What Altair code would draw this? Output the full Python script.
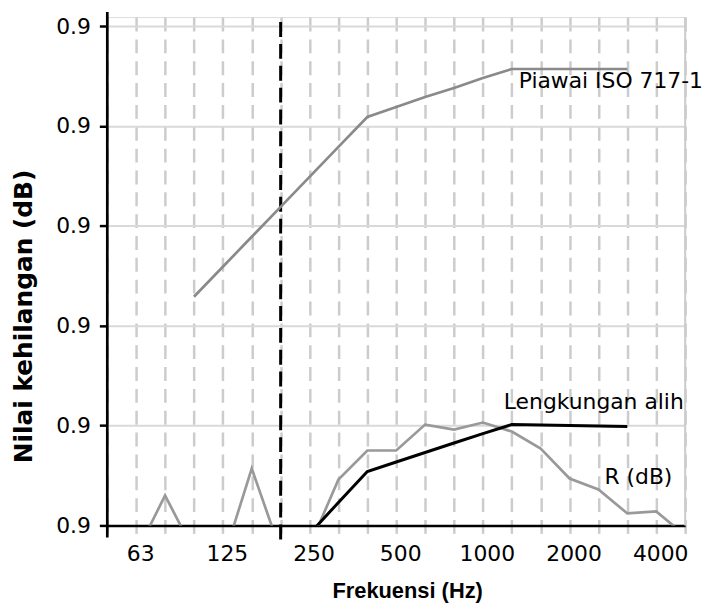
import json
import altair as alt
import pandas as pd

# ---- data ----
freqs = ["50", "63", "80", "100", "125", "160", "200", "250", "315", "400", "500",
         "630", "800", "1000", "1250", "1600", "2000", "2500", "3150", "4000", "5000"]

r_freqs = ["63", "80", "100", "125", "160", "200", "250", "315", "400", "500", "630",
           "800", "1000", "1250", "1600", "2000", "2500", "3150", "4000", "5000"]
r_vals = [-2.8, 3.0, -2.6, -3.5, 5.7, -2.6, -2.1, 4.6, 7.5, 7.5, 10.1,
          9.6, 10.3, 9.4, 7.7, 4.7, 3.6, 1.2, 1.4, -1.0]

iso_freqs = ["100", "125", "160", "200", "250", "315", "400", "500", "630", "800",
             "1000", "1250", "1600", "2000", "2500", "3150"]
iso_vals = [22.9, 25.9, 28.9, 31.9, 34.9, 37.9, 40.9, 41.9, 42.9, 43.8,
            44.8, 45.7, 45.7, 45.7, 45.7, 45.7]

shift_freqs = ["250", "315", "400", "500", "630", "800", "1000", "1250", "1600",
               "2000", "2500", "3150"]
shift_vals = [-0.85, 2.3, 5.4, 6.35, 7.3, 8.25, 9.2, 10.1, 10.05, 10.0, 9.95, 9.9]

x_label_ticks = ["63", "125", "250", "500", "1000", "2000", "4000"]
y_ticks = [0, 10, 20, 30, 40, 50]
y_tick_text = "0.9"
y_domain = [0, 50.9]

annot_text = ["Piawai ISO 717-1", "Lengkungan alih", "R (dB)"]
annot_freq = ["1250", "1250", "2500"]
annot_val = [43.77, 11.63, 4.17]
annot_dx = [7, -8, 6]

ref_freq = ["200"]          # dashed black marker line
axis_freq = ["50"]          # vertical axis line
edge_freq = ["5000"]        # right border

LABEL_FONT = "DejaVu Sans"

x_axis = alt.Axis(
    labelExpr="indexof(%s, datum.label) >= 0 ? datum.label : ''" % json.dumps(x_label_ticks).replace('"', "'"),
    labelAngle=0, labelFont=LABEL_FONT, labelFontSize=22, labelColor="black",
    labelPadding=10, labelOffset=4,
    domain=True, domainColor="black", domainWidth=2.5,
    ticks=True, tickColor="#cccccc", tickSize=8, tickWidth=2.5,
    grid=True, gridColor="#cccccc", gridDash=[14, 8], gridWidth=2.5,
    title="Frekuensi (Hz)", titleFont="Liberation Sans", titleFontSize=22,
    titleFontWeight="bold", titleColor="black",
    titleX=302, titleY=56, titleAlign="center", titleBaseline="top",
)

y_axis = alt.Axis(
    values=y_ticks, labelExpr="'%s'" % y_tick_text,
    labelFont=LABEL_FONT, labelFontSize=22, labelColor="black", labelPadding=9,
    domain=False, ticks=True, tickColor="black", tickSize=8, tickWidth=2.5,
    grid=True, gridColor="#d9d9d9", gridWidth=2,
    title="Nilai kehilangan (dB)", titleFont=LABEL_FONT, titleFontSize=25,
    titleFontWeight="bold", titleColor="black", titleAngle=270,
    titleX=-84, titleY=301, titleAlign="center", titleBaseline="middle",
)

x_scale = alt.Scale(type="point", domain=freqs, padding=0)
y_scale = alt.Scale(domain=y_domain, nice=False, zero=False)


def X():
    return alt.X("f:O", scale=x_scale, axis=x_axis, sort=freqs)


def Y(field="v"):
    return alt.Y(f"{field}:Q", scale=y_scale, axis=y_axis)


r_df = pd.DataFrame({"f": r_freqs, "v": r_vals})
iso_df = pd.DataFrame({"f": iso_freqs, "v": iso_vals})
shift_df = pd.DataFrame({"f": shift_freqs, "v": shift_vals})
ref_df = pd.DataFrame({"f": ref_freq, "v": [-1.4], "v2": [y_domain[1]]})
axis_df = pd.DataFrame({"f": axis_freq, "v": [-1.2], "v2": [51.4]})
edge_df = pd.DataFrame({"f": edge_freq, "v": [0], "v2": [y_domain[1]]})

edge = alt.Chart(edge_df).mark_rule(color="#cccccc", strokeWidth=2).encode(
    x=X(), y=Y(), y2="v2:Q")
ref = alt.Chart(ref_df).mark_rule(color="black", strokeWidth=3, strokeDash=[15, 7]).encode(
    x=X(), y=Y(), y2="v2:Q")
yline = alt.Chart(axis_df).mark_rule(color="black", strokeWidth=2.7).encode(
    x=X(), y=Y(), y2="v2:Q")

iso = alt.Chart(iso_df).mark_line(color="#8a8a8a", strokeWidth=2.7, clip=True).encode(
    x=X(), y=Y(), order="idx:Q").transform_window(idx="row_number()")
rline = alt.Chart(r_df).mark_line(color="#999999", strokeWidth=2.7, clip=True).encode(
    x=X(), y=Y(), order="idx:Q").transform_window(idx="row_number()")
shift = alt.Chart(shift_df).mark_line(color="black", strokeWidth=3, clip=True).encode(
    x=X(), y=Y(), order="idx:Q").transform_window(idx="row_number()")

texts = []
for t, f, v, dx in zip(annot_text, annot_freq, annot_val, annot_dx):
    d = pd.DataFrame({"f": [f], "v": [v], "t": [t]})
    texts.append(
        alt.Chart(d).mark_text(font=LABEL_FONT, fontSize=22, color="black",
                               align="left", baseline="alphabetic", dx=dx)
        .encode(x=X(), y=Y(), text="t:N")
    )

chart = alt.layer(edge, ref, iso, rline, shift, yline, *texts).properties(
    width=582, height=512,
    autosize=alt.AutoSizeParams(type="none"),
    padding={"left": 100, "top": 7, "right": 20, "bottom": 78},
).configure_view(stroke=None).configure(background="white")

chart.save("out.html", embed_options={"renderer": "svg", "actions": False})
